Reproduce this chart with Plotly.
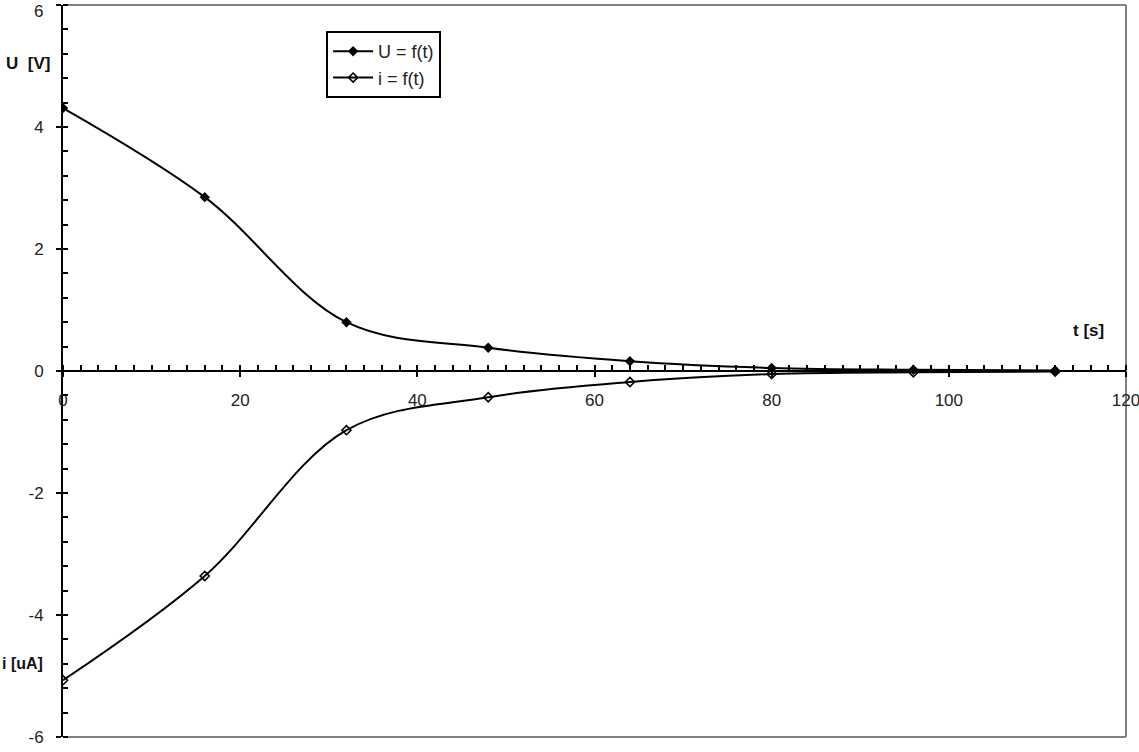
import plotly.graph_objects as go

t = [0, 16, 32, 48, 64, 80, 96, 112]
U = [4.31, 2.85, 0.80, 0.38, 0.16, 0.05, 0.02, 0.01]
I = [-5.07, -3.36, -0.97, -0.43, -0.18, -0.05, -0.02, -0.01]

x_ticks = [0, 20, 40, 60, 80, 100, 120]
y_ticks = [-6, -4, -2, 0, 2, 4, 6]
y_labels = ["-6", "-4", "-2", "0", "2", "4", ""]
top_label = "6"

font_family = "Liberation Sans, Arial, sans-serif"

fig = go.Figure()
fig.add_trace(go.Scatter(
    x=t, y=U, name="U = f(t)", mode="lines+markers",
    line=dict(color="black", width=2, shape="spline", smoothing=1.0),
    marker=dict(symbol="diamond", size=8, color="black"),
))
fig.add_trace(go.Scatter(
    x=t, y=I, name="i = f(t)", mode="lines+markers",
    line=dict(color="black", width=2, shape="spline", smoothing=1.0),
    marker=dict(symbol="diamond-open", size=7, color="black", line=dict(width=1.6, color="black")),
))

fig.update_layout(
    width=1139, height=752,
    margin=dict(l=63, r=13, t=5, b=15),
    paper_bgcolor="white", plot_bgcolor="white",
    font=dict(family=font_family, size=17, color="#222"),
    showlegend=True,
    legend=dict(
        x=0.2475, y=0.9645, xanchor="left", yanchor="top",
        bordercolor="black", borderwidth=2, bgcolor="white",
        font=dict(size=18, color="#222"),
        tracegroupgap=2,
        itemwidth=40,
    ),
    xaxis=dict(
        range=[0, 120], tickvals=x_ticks, ticktext=[str(v) for v in x_ticks],
        showgrid=False, zeroline=False, showline=True, linecolor="black", linewidth=2,
        anchor="free", position=0.5, automargin=False, ticklabeloverflow="allow",
        ticks="outside", ticklen=5, tickwidth=1.5, tickcolor="black",
        ticklabelstandoff=9,
        minor=dict(dtick=2, ticks="inside", ticklen=5, tickwidth=1.5, tickcolor="black", showgrid=False),
    ),
    yaxis=dict(
        range=[-6, 6], tickvals=y_ticks, ticktext=y_labels,
        showgrid=False, zeroline=False, showline=True, linecolor="black", linewidth=2,
        automargin=False, ticklabeloverflow="allow",
        ticks="outside", ticklen=5, tickwidth=1.5, tickcolor="black",
        ticklabelstandoff=9,
        minor=dict(dtick=0.4, ticks="inside", ticklen=5, tickwidth=1.5, tickcolor="black", showgrid=False),
    ),
    shapes=[
        dict(type="line", xref="paper", yref="paper", x0=0, x1=1, y0=1, y1=1,
             line=dict(color="#808080", width=2), layer="below"),
        dict(type="line", xref="paper", yref="paper", x0=1, x1=1, y0=0, y1=1,
             line=dict(color="#808080", width=2), layer="below"),
        dict(type="line", xref="paper", yref="paper", x0=0, x1=1, y0=0, y1=0,
             line=dict(color="#808080", width=2), layer="below"),
    ],
    annotations=[
        dict(text=top_label, xref="paper", yref="paper", x=-0.0169, y=1.0068,
             xanchor="right", yanchor="top", showarrow=False, font=dict(size=17, color="#222")),
        dict(text="<b>U  [V]</b>", xref="paper", yref="paper", x=-0.0555, y=0.9205,
             xanchor="left", yanchor="middle", showarrow=False, font=dict(size=17, color="#111")),
        dict(text="<b>i [uA]</b>", xref="paper", yref="paper", x=-0.0593, y=0.1008,
             xanchor="left", yanchor="middle", showarrow=False, font=dict(size=16, color="#111")),
        dict(text="<b>t [s]</b>", xref="paper", yref="paper", x=0.9645, y=0.5553,
             xanchor="center", yanchor="middle", showarrow=False, font=dict(size=17, color="#111")),
    ],
)

fig.write_html(
    "out.html",
    config={"displayModeBar": False},
    post_script="document.body.style.margin='0';document.body.style.overflow='hidden';",
)
